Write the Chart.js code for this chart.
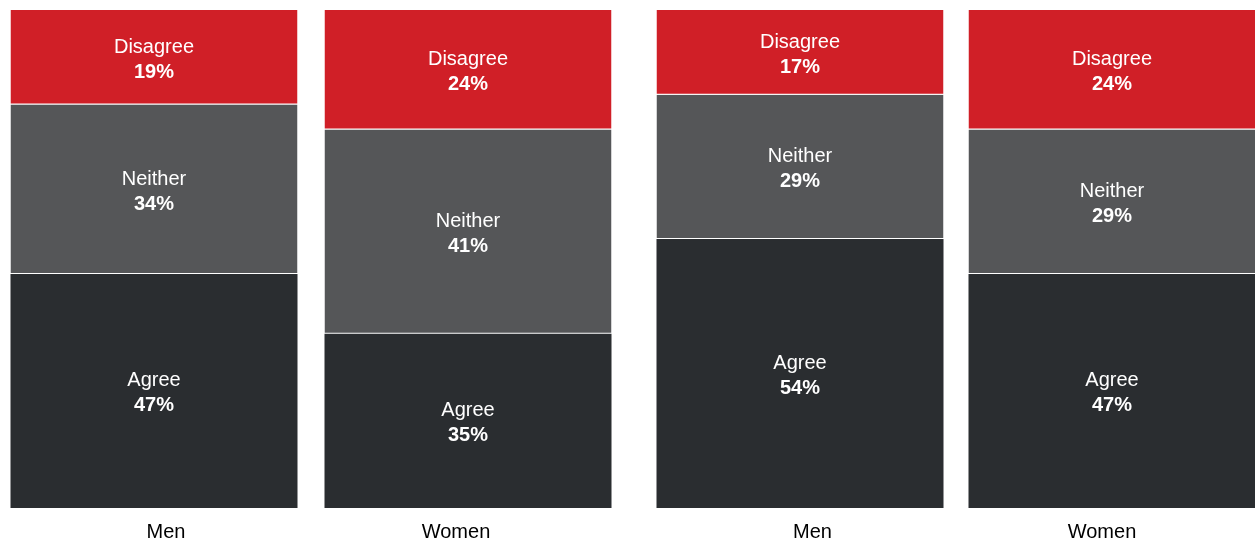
<!DOCTYPE html>
<html>
<head>
<meta charset="utf-8">
<script src="https://cdn.jsdelivr.net/npm/chart.js@4/dist/chart.umd.min.js"></script>
<style>
  html, body { margin: 0; padding: 0; background: #fff; overflow: hidden; }
  body { width: 1255px; height: 541px; position: relative; }
  canvas { position: absolute; top: 0; }
  #chartLeft { left: -3px; }
  #chartRight { left: 644px; }
</style>
</head>
<body>
<canvas id="chartLeft" width="628" height="541"></canvas>
<canvas id="chartRight" width="624" height="541"></canvas>
<script>
const categories = ["Men", "Women"];
const seriesNames = ["Agree", "Neither", "Disagree"];

// left pair of bars
const agreeLeft = [47, 35];
const neitherLeft = [34, 41];
const disagreeLeft = [19, 24];

// right pair of bars
const agreeRight = [54, 47];
const neitherRight = [29, 29];
const disagreeRight = [17, 24];

const colors = ["#2a2d30", "#555658", "#d01f27"];
const FONT = "'Liberation Sans', Arial, sans-serif";

// writes "Name / value%" in the middle of each segment
const segmentLabels = {
  id: "segmentLabels",
  afterDatasetsDraw(chart) {
    const ctx = chart.ctx;
    ctx.save();
    ctx.fillStyle = "#ffffff";
    ctx.textAlign = "center";
    ctx.textBaseline = "middle";
    chart.data.datasets.forEach((ds, di) => {
      const meta = chart.getDatasetMeta(di);
      meta.data.forEach((bar, i) => {
        const cy = (bar.y + bar.base) / 2;
        ctx.font = "20px " + FONT;
        ctx.fillText(ds.label, bar.x, cy - 10);
        ctx.font = "bold 20px " + FONT;
        ctx.fillText(ds.data[i] + "%", bar.x, cy + 15);
      });
    });
    ctx.restore();
  }
};

// category names under the bars, nudged toward each other like the original
const categoryLabels = {
  id: "categoryLabels",
  afterDraw(chart, args, opts) {
    const ctx = chart.ctx;
    const x = chart.scales.x;
    ctx.save();
    ctx.fillStyle = "#000000";
    ctx.font = "20px " + FONT;
    ctx.textAlign = "center";
    ctx.textBaseline = "middle";
    chart.data.labels.forEach((lab, i) => {
      ctx.fillText(lab, x.getPixelForValue(i) + opts.shift[i], chart.chartArea.bottom + 24);
    });
    ctx.restore();
  }
};

function makeChart(id, agree, neither, disagree, barPct, shift) {
  const values = [agree, neither, disagree];
  return new Chart(document.getElementById(id), {
    type: "bar",
    data: {
      labels: categories,
      datasets: values.map((v, k) => ({
        label: seriesNames[k],
        data: v,
        backgroundColor: colors[k],
        borderColor: "#ffffff",
        borderWidth: k === 0 ? 0 : { top: 0, bottom: 1, left: 0, right: 0 },
        borderSkipped: false,
        categoryPercentage: 1,
        barPercentage: barPct
      }))
    },
    options: {
      responsive: false,
      animation: false,
      layout: { padding: { top: 10, bottom: 33, left: 0, right: 0 } },
      plugins: {
        legend: { display: false },
        tooltip: { enabled: false },
        categoryLabels: { shift: shift }
      },
      scales: {
        x: { stacked: true, display: false },
        y: { stacked: true, display: false, min: 0, max: 100 }
      }
    },
    plugins: [segmentLabels, categoryLabels]
  });
}

makeChart("chartLeft", agreeLeft, neitherLeft, disagreeLeft, 287 / 314, [12, -12]);
makeChart("chartRight", agreeRight, neitherRight, disagreeRight, 287 / 312, [12.5, -10]);
</script>
</body>
</html>
